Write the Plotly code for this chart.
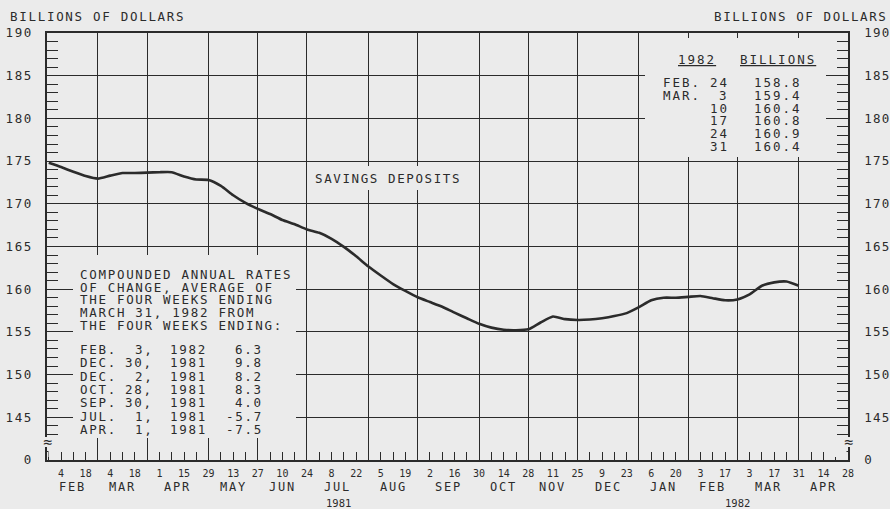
import pandas as pd
import plotly.graph_objects as go

# ---------------- data ----------------
weeks = pd.date_range("1981-01-28", "1982-03-31", freq="7D")
deposits = [
    174.8, 174.3, 173.75, 173.25, 172.95, 173.3, 173.6, 173.6, 173.65, 173.7,
    173.7, 173.2, 172.85, 172.8, 172.1, 171.0, 170.1, 169.4, 168.8, 168.1,
    167.6, 167.0, 166.6, 165.9, 164.95, 163.85, 162.65, 161.6, 160.6, 159.8,
    159.05, 158.5, 157.95, 157.25, 156.6, 155.95, 155.5, 155.25, 155.2, 155.3,
    156.1, 156.8, 156.5, 156.4, 156.45, 156.6, 156.85, 157.2, 157.9, 158.7,
    159.0, 159.0, 159.1, 159.2, 158.95, 158.7, 158.8, 159.4, 160.4, 160.8,
    160.9, 160.4,
]

tick_weeks = pd.date_range("1981-01-28", "1982-04-28", freq="7D")
month_ends = ["1981-02-25", "1981-03-25", "1981-04-29", "1981-05-27", "1981-06-24",
              "1981-07-29", "1981-08-26", "1981-09-30", "1981-10-28", "1981-11-25",
              "1981-12-30", "1982-01-27", "1982-02-24", "1982-03-31"]
month_labels = ["FEB", "MAR", "APR", "MAY", "JUN", "JUL", "AUG", "SEP", "OCT",
                "NOV", "DEC", "JAN", "FEB", "MAR", "APR"]
year_labels = ["1981", "1982"]
year_dates = ["1981-07-12", "1982-02-24"]

y_tickvals = [140, 145, 150, 155, 160, 165, 170, 175, 180, 185, 190]
y_ticktext = ["0", "145", "150", "155", "160", "165", "170", "175", "180", "185", "190"]

note_lines = ["COMPOUNDED ANNUAL RATES", "OF CHANGE, AVERAGE OF",
              "THE FOUR WEEKS ENDING", "MARCH 31, 1982 FROM",
              "THE FOUR WEEKS ENDING:"]
rate_months = ["FEB.", "DEC.", "DEC.", "OCT.", "SEP.", "JUL.", "APR."]
rate_days = ["3,", "30,", "2,", "28,", "30,", "1,", "1,"]
rate_years = ["1982", "1981", "1981", "1981", "1981", "1981", "1981"]
rate_values = [6.3, 9.8, 8.2, 8.3, 4.0, -5.7, -7.5]

table_months = ["FEB.", "MAR.", "", "", "", ""]
table_days = ["24", "3", "10", "17", "24", "31"]
table_values = deposits[-6:]

# ---------------- style ----------------
BG = "#ebebeb"
INK = "#2b2b2b"
MONO = "DejaVu Sans Mono"
L, R, T, B = 47, 848, 33, 460


def px(x):
    return (x - L) / (R - L)


def py(y):
    return (B - y) / (B - T)


def sp(text, s):
    return f"<span style='letter-spacing:{s}px'>{text}</span>"


fig = go.Figure()
fig.add_trace(go.Scatter(x=weeks, y=deposits, mode="lines",
                         line=dict(color=INK, width=2.6, shape="spline", smoothing=0.5),
                         hoverinfo="skip", showlegend=False))
# companion trace so the overlay axes (grid / right scale) are built
fig.add_trace(go.Scatter(x=weeks, y=deposits, mode="lines", xaxis="x2", yaxis="y2",
                         line=dict(color="rgba(0,0,0,0)", width=0),
                         hoverinfo="skip", showlegend=False))

tick_text = [str(d.day) if i % 2 == 1 else "" for i, d in enumerate(tick_weeks)]
x_range = ["1981-01-27", "1982-04-28"]

minor_y = dict(tickmode="linear", tick0=0, dtick=1, ticks="inside",
               ticklen=11, tickwidth=1.3, tickcolor=INK, showgrid=False)

fig.update_layout(
    template="none",
    width=890, height=509, autosize=False,
    margin=dict(l=L, r=890 - R, t=T, b=509 - B, pad=0),
    paper_bgcolor=BG, plot_bgcolor=BG, showlegend=False,
    xaxis=dict(type="date", range=x_range, tickmode="array", automargin=False,
               tickvals=list(tick_weeks), ticktext=tick_text,
               ticks="inside", ticklen=8, tickwidth=1.3, tickcolor=INK,
               showgrid=False, zeroline=False,
               showline=True, linecolor=INK, linewidth=1.6, mirror=True,
               tickfont=dict(family=MONO, size=10, color=INK),
               ticklabelstandoff=3),
    xaxis2=dict(type="date", overlaying="x", matches="x", anchor="y", automargin=False,
                tickmode="array", tickvals=month_ends,
                showgrid=True, gridcolor=INK, gridwidth=1.4,
                showticklabels=False, ticks="", showline=False, zeroline=False),
    yaxis=dict(range=[140, 190], tickmode="array", tickvals=y_tickvals, automargin=False,
               ticktext=[sp(t, 1.5) for t in y_ticktext],
               ticks="inside", ticklen=22, tickwidth=1.3, tickcolor=INK,
               showgrid=True, gridcolor=INK, gridwidth=1.4, zeroline=False,
               showline=True, linecolor=INK, linewidth=1.6,
               minor=minor_y,
               tickfont=dict(family=MONO, size=12.5, color=INK),
               ticklabelstandoff=10),
    yaxis2=dict(overlaying="y", matches="y", side="right", anchor="x", automargin=False,
                tickmode="array", tickvals=y_tickvals,
                ticktext=[sp(t, 1.2) for t in y_ticktext],
                ticks="inside", ticklen=22, tickwidth=1.3, tickcolor=INK,
                showgrid=False, zeroline=False,
                showline=True, linecolor=INK, linewidth=1.6,
                minor=minor_y,
                tickfont=dict(family=MONO, size=12.5, color=INK),
                ticklabelstandoff=12),
)

# masking panels behind the text blocks (they sit clear of the axes and the curve)
for (x0, x1, y0, y1) in [(73, 296, 255, 438), (645, 826, 38, 157), (309, 466, 166, 190)]:
    fig.add_shape(type="rect", xref="paper", yref="paper",
                  x0=px(x0), x1=px(x1), y0=py(y1), y1=py(y0),
                  fillcolor=BG, line=dict(width=0), layer="above")
# axis breaks: hide axis line and minor ticks in the broken stretch
for xb, sgn in ((L, 1), (R, -1)):
    fig.add_shape(type="rect", xref="paper", yref="paper",
                  x0=px(xb - 4), x1=px(xb + 4), y0=py(447), y1=py(437),
                  fillcolor=BG, line=dict(width=0), layer="above")
    fig.add_shape(type="rect", xref="paper", yref="paper",
                  x0=px(xb + sgn * 1.5), x1=px(xb + sgn * 13), y0=py(457), y1=py(437),
                  fillcolor=BG, line=dict(width=0), layer="above")
    fig.add_annotation(x=px(xb), y=py(442), xref="paper", yref="paper",
                       text="≈", showarrow=False, xanchor="center", yanchor="middle",
                       font=dict(family=MONO, size=15, color=INK))

ann = dict(xref="paper", yref="paper", showarrow=False, yanchor="middle")
txt = dict(family=MONO, size=12.5, color=INK)

fig.add_annotation(x=px(8), y=py(17), text=sp("BILLIONS OF DOLLARS", 1.7),
                   xanchor="left", font=txt, **ann)
fig.add_annotation(x=px(889), y=py(17), text=sp("BILLIONS OF DOLLARS", 1.6),
                   xanchor="right", font=txt, **ann)
fig.add_annotation(x=px(313), y=py(178), text=sp("SAVINGS DEPOSITS", 1.6),
                   xanchor="left", font=txt, **ann)

# left note block
note_y = [274.7, 287.3, 299.9, 312.5, 325.1]
for line, yy in zip(note_lines, note_y):
    fig.add_annotation(x=px(78), y=py(yy), text=sp(line, 1.7), xanchor="left",
                       font=txt, **ann)
row_y = [349.5, 362.8, 376.2, 389.5, 402.8, 416.2, 429.5]
for m, d, yr, v, yy in zip(rate_months, rate_days, rate_years, rate_values, row_y):
    fig.add_annotation(x=px(78), y=py(yy), text=sp(m, 1.7), xanchor="left", font=txt, **ann)
    fig.add_annotation(x=px(155), y=py(yy), text=sp(d, 1.7), xanchor="right", font=txt, **ann)
    fig.add_annotation(x=px(168), y=py(yy), text=sp(yr, 1.7), xanchor="left", font=txt, **ann)
    fig.add_annotation(x=px(265), y=py(yy), text=sp(f"{v:.1f}", 1.7), xanchor="right",
                       font=txt, **ann)

# right table
ul = dict(family=MONO, size=12.5, color=INK, lineposition="under")
fig.add_annotation(x=px(697), y=py(60), text=sp("1982", 2.0), xanchor="center", font=ul, **ann)
fig.add_annotation(x=px(778), y=py(60), text=sp("BILLIONS", 2.0), xanchor="center", font=ul, **ann)
tab_y = [82.5, 95.3, 108.1, 120.9, 133.7, 146.5]
for m, d, v, yy in zip(table_months, table_days, table_values, tab_y):
    if m:
        fig.add_annotation(x=px(661), y=py(yy), text=sp(m, 2.0), xanchor="left", font=txt, **ann)
    fig.add_annotation(x=px(731), y=py(yy), text=sp(d, 2.0), xanchor="right", font=txt, **ann)
    fig.add_annotation(x=px(804), y=py(yy), text=sp(f"{v:.1f}", 2.0), xanchor="right",
                       font=txt, **ann)

# month and year labels under the axis
bounds = pd.to_datetime([x_range[0]] + month_ends + [x_range[1]])
mids = [bounds[i] + (bounds[i + 1] - bounds[i]) / 2 for i in range(len(bounds) - 1)]
for lab, mdt in zip(month_labels, mids):
    fig.add_annotation(x=mdt, y=py(487), xref="x", yref="paper", text=sp(lab, 1.8),
                       showarrow=False, xanchor="center", yanchor="middle",
                       font=dict(family=MONO, size=12, color=INK))
for lab, ydt in zip(year_labels, year_dates):
    fig.add_annotation(x=ydt, y=py(503), xref="x", yref="paper", text=lab,
                       showarrow=False, xanchor="center", yanchor="middle",
                       font=dict(family=MONO, size=10.5, color=INK))

fig.write_html("out.html", config={"displayModeBar": False},
               post_script="document.body.style.margin='0';document.body.style.overflow='hidden';")
